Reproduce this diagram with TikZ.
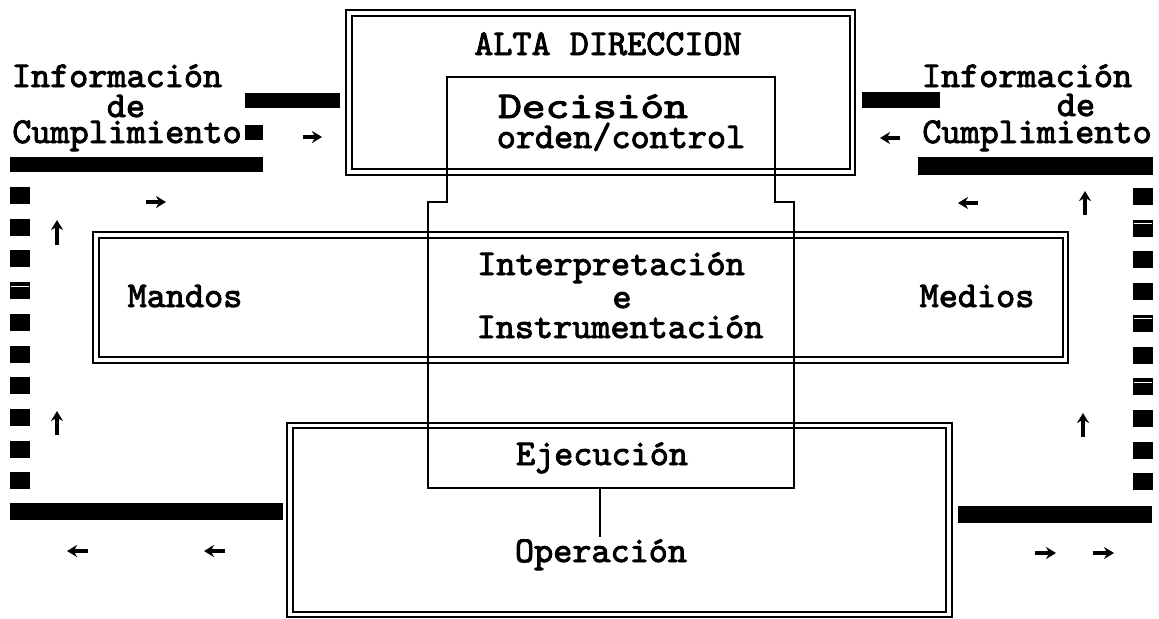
\documentclass[tikz,border=0pt]{standalone}
\usepackage{fontspec}
\setmonofont{lmmono10-regular.otf}[FakeBold=2.5]
\usepackage{graphicx}
\usetikzlibrary{arrows.meta}
\begin{document}
\begin{tikzpicture}[x=0.5pt,y=-0.5pt,
  txt/.style={font=\fontsize{18.2}{20}\selectfont\ttfamily, inner sep=0pt, anchor=base},
  frame/.style={line width=1.1pt},
  cbox/.style={line width=1.1pt},
  bar/.style={fill=black},
  tick/.style={line width=1.7pt, -{Stealth[length=5pt,width=6pt]}},
  gap/.style={draw=white, line width=0.5pt},
]
\useasboundingbox (0,0) rectangle (1159,618);

% ---- double frames ----
\draw[frame] (346,10) rectangle (855,175);
\draw[frame] (352,16) rectangle (850,169);
\draw[frame] (93,232) rectangle (1068,363);
\draw[frame] (99,238) rectangle (1063,357);
\draw[frame] (287,423) rectangle (952,617);
\draw[frame] (293,428) rectangle (946,612);

% ---- central stepped box ----
\draw[cbox] (447,202) -- (447,77) -- (775,77) -- (775,202) -- (794,202)
  -- (794,488) -- (428,488) -- (428,202) -- cycle;

% ---- texts ----
\node[txt] (alta) at (608,55) {ALTA DIRECCION};
\node[txt] (dec1) at (593,118) {\scalebox{1.24}[1.04]{Decisión}};
\node[txt] (dec2) at (621,148) {orden/control};
\node[txt] (int1) at (611,275) {Interpretación};
\node[txt] (int2) at (622,308) {e};
\node[txt] (int3) at (620,338) {Instrumentación};
\node[txt] (mandos) at (185,307) {Mandos};
\node[txt] (medios) at (977,307) {Medios};
\node[txt] (ejec) at (602,465) {Ejecución};
\node[txt] (oper) at (601,562) {Operación};

\node[txt] (li1) at (117,87) {Información};
\node[txt] (li2) at (126,117) {de};
\node[txt] (li3) at (127,143) {Cumplimiento};
\node[txt] (ri1) at (1027,87) {Información};
\node[txt] (ri2) at (1076,116) {de};
\node[txt] (ri3) at (1037,143) {Cumplimiento};

% ---- connector Ejecucion -> Operacion ----
\coordinate (ejb) at (600,488);
\coordinate (opt) at (600,537);
\draw[line width=1.1pt] (ejb) -- (opt);

% ---- black bars, left ----
\fill[bar] (245,93) rectangle (340,108);
\fill[bar] (245,125) rectangle (263,140);
\fill[bar] (10,157) rectangle (263,172);
\fill[bar] (10,503) rectangle (283,520);
\foreach \k in {0,...,9} {
  \fill[bar] (10,{187+31.7*\k}) rectangle (30,{204+31.7*\k});
}
\draw[gap] (11,{187+31.7*3+4}) -- (29,{187+31.7*3+4});

% ---- black bars, right ----
\fill[bar] (862,92) rectangle (940,108);
\fill[bar] (918,157) rectangle (1153,175);
\fill[bar] (958,506) rectangle (1152,523);
\foreach \k in {0,...,9} {
  \fill[bar] (1133,{188+31.7*\k}) rectangle (1153,{205+31.7*\k});
}
\foreach \k in {1,4,6} {
  \draw[gap] (1134,{188+31.7*\k+4}) -- (1152,{188+31.7*\k+4});
}

% ---- small arrows, left ----
\draw[tick] (303,137) -- (322,137);
\draw[tick] (146,202) -- (166,202);
\draw[tick] (57,245) -- (57,220);
\draw[tick] (57,435) -- (57,411);
\draw[tick] (88,551) -- (67,551);
\draw[tick] (225,551) -- (204,551);

% ---- small arrows, right ----
\draw[tick] (900,138) -- (880,138);
\draw[tick] (978,203) -- (958,203);
\draw[tick] (1085,215) -- (1085,191);
\draw[tick] (1083,437) -- (1083,413);
\draw[tick] (1035,553) -- (1056,553);
\draw[tick] (1093,553) -- (1114,553);
\end{tikzpicture}
\end{document}
